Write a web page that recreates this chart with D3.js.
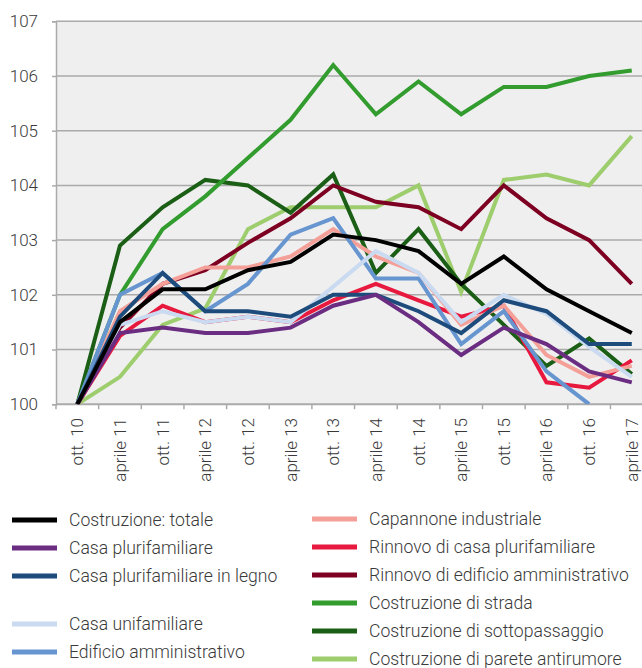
<!DOCTYPE html>
<html>
<head>
<meta charset="utf-8">
<script src="https://cdn.jsdelivr.net/npm/d3@7/dist/d3.min.js"></script>
<style>
  html, body { margin: 0; padding: 0; background: #fff; }
  svg { display: block; }
  text { font-family: Roboto, "Noto Sans", sans-serif; font-weight: 300; fill: #3a3a3a; }
</style>
</head>
<body>
<svg id="chart" width="642" height="668"></svg>
<script>
const categories = ["ott. 10","aprile 11","ott. 11","aprile 12","ott. 12","aprile 13","ott. 13","aprile 14","ott. 14","aprile 15","ott. 15","aprile 16","ott. 16","aprile 17"];
const yTicks = [100, 101, 102, 103, 104, 105, 106, 107];

const totale          = [100, 101.5, 102.1, 102.1, 102.45, 102.6, 103.1, 103.0, 102.8, 102.2, 102.7, 102.1, 101.7, 101.3];
const plurifamiliare  = [100, 101.3, 101.4, 101.3, 101.3, 101.4, 101.8, 102.0, 101.5, 100.9, 101.4, 101.1, 100.6, 100.4];
const legno           = [100, 101.6, 102.4, 101.7, 101.7, 101.6, 102.0, 102.0, 101.7, 101.3, 101.9, 101.7, 101.1, 101.1];
const unifamiliare    = [100, 101.45, 101.7, 101.5, 101.6, 101.5, 102.15, 102.8, 102.4, 101.5, 102.0, 101.65, 101.05, 100.5];
const edificio        = [100, 102.0, 102.4, 101.7, 102.2, 103.1, 103.4, 102.3, 102.3, 101.1, 101.7, 100.6, 100.0, null];
const capannone       = [100, 101.7, 102.2, 102.5, 102.5, 102.7, 103.2, 102.7, 102.4, 101.45, 101.8, 100.9, 100.5, 100.7];
const rinnovoCasa     = [100, 101.25, 101.8, 101.5, 101.6, 101.5, 101.9, 102.2, 101.9, 101.6, 101.8, 100.4, 100.3, 100.8];
const rinnovoEdificio = [100, 101.4, 102.2, 102.45, 102.95, 103.4, 104.0, 103.7, 103.6, 103.2, 104.0, 103.4, 103.0, 102.2];
const strada          = [100, 102.0, 103.2, 103.8, 104.5, 105.2, 106.2, 105.3, 105.9, 105.3, 105.8, 105.8, 106.0, 106.1];
const sottopassaggio  = [100, 102.9, 103.6, 104.1, 104.0, 103.5, 104.2, 102.4, 103.2, 102.2, 101.45, 100.7, 101.2, 100.55];
const parete          = [100, 100.5, 101.45, 101.75, 103.2, 103.6, 103.6, 103.6, 104.0, 102.05, 104.1, 104.2, 104.0, 104.9];

const seriesNames = ["Costruzione: totale","Casa plurifamiliare","Casa plurifamiliare in legno","Casa unifamiliare","Edificio amministrativo","Capannone industriale","Rinnovo di casa plurifamiliare","Rinnovo di edificio amministrativo","Costruzione di strada","Costruzione di sottopassaggio","Costruzione di parete antirumore"];
const seriesValues = [totale, plurifamiliare, legno, unifamiliare, edificio, capannone, rinnovoCasa, rinnovoEdificio, strada, sottopassaggio, parete];
const seriesColors = ["#000000","#6b2d82","#1d4b7c","#c9daf1","#6795cf","#f4a099","#e8193f","#7d0022","#339c2f","#1b5e15","#9dcd6d"];

(function () {
const series = seriesNames.map((n, i) => ({ name: n, values: seriesValues[i], color: seriesColors[i] }));

const svg = d3.select("#chart");
const pLeft = 56, pTop = 21.3, pBottom = 404.2, band = 42.65;
const pRight = pLeft + band * categories.length;

const x = d3.scaleBand().domain(categories).range([pLeft, pRight]).paddingInner(0).paddingOuter(0);
const y = d3.scaleLinear().domain([100, 107]).range([pBottom, pTop]);

// plot background
svg.append("rect").attr("x", pLeft).attr("y", pTop).attr("width", pRight - pLeft).attr("height", pBottom - pTop).attr("fill", "#efefef");

// grid lines
svg.append("g").selectAll("line").data(yTicks.filter(d => d > 100)).join("line")
  .attr("x1", pLeft).attr("x2", pRight).attr("y1", d => y(d)).attr("y2", d => y(d))
  .attr("stroke", "#aaaaaa").attr("stroke-width", 1.5);

// y axis
const yAxis = svg.append("g").attr("transform", `translate(${pLeft},0)`)
  .call(d3.axisLeft(y).tickValues(yTicks).tickSize(4).tickPadding(14).tickFormat(d3.format("d")));
yAxis.select(".domain").attr("stroke", "#aaaaaa").attr("stroke-width", 1.5);
yAxis.selectAll(".tick line").attr("stroke", "#aaaaaa").attr("stroke-width", 1.5);
yAxis.selectAll(".tick text").attr("font-size", 17).attr("font-family", "Roboto").attr("font-weight", 300).attr("fill", "#3a3a3a");

// x axis
svg.append("line").attr("x1", pLeft).attr("x2", pRight).attr("y1", pBottom).attr("y2", pBottom)
  .attr("stroke", "#aaaaaa").attr("stroke-width", 2);
svg.append("g").selectAll("line").data(categories).join("line")
  .attr("x1", d => x(d)).attr("x2", d => x(d)).attr("y1", pBottom).attr("y2", pBottom + 5)
  .attr("stroke", "#aaaaaa").attr("stroke-width", 1.5);
svg.append("g").selectAll("text").data(categories).join("text")
  .attr("transform", d => `translate(${x(d) + x.bandwidth() / 2},418) rotate(-90)`)
  .attr("text-anchor", "end").attr("dominant-baseline", "central")
  .attr("font-size", 17).text(d => d);

// clip
svg.append("clipPath").attr("id", "plotclip").append("rect")
  .attr("x", pLeft).attr("y", pTop - 5).attr("width", pRight - pLeft).attr("height", pBottom - pTop + 5);

const line = d3.line()
  .defined(d => d != null)
  .x((d, i) => x(categories[i]) + x.bandwidth() / 2)
  .y(d => y(d));

svg.append("g").attr("clip-path", "url(#plotclip)")
  .selectAll("path").data(series.slice().reverse()).join("path")
  .attr("d", s => line(s.values))
  .attr("fill", "none").attr("stroke", s => s.color).attr("stroke-width", 4)
  .attr("stroke-linejoin", "miter");

// legend
const col1Y = [520, 548, 576, 624, 652];
const col2Y = [519, 547, 575, 603, 631, 659];
const legendItems = series.map((s, i) => {
  if (i < 5) return { ...s, lx: 12, ly: col1Y[i] };
  return { ...s, lx: 312, ly: col2Y[i - 5] };
});
const lg = svg.append("g").selectAll("g").data(legendItems).join("g")
  .attr("transform", d => `translate(${d.lx},${d.ly})`);
lg.append("line").attr("x1", 0).attr("x2", 45).attr("y1", 0).attr("y2", 0)
  .attr("stroke", d => d.color).attr("stroke-width", 5);
lg.append("text").attr("x", 57).attr("y", 0).attr("dominant-baseline", "central")
  .attr("font-size", 17.6).text(d => d.name);
})();
</script>
</body>
</html>
